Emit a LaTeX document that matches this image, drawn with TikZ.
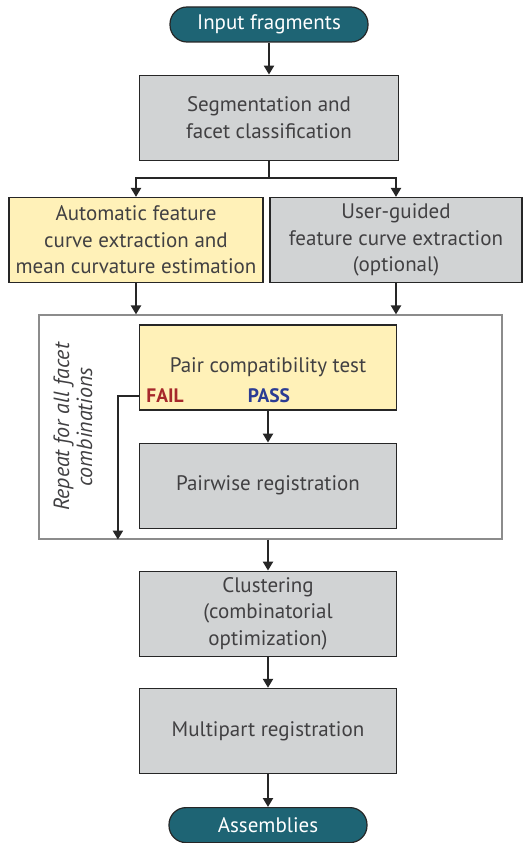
\documentclass[tikz,border=0pt]{standalone}
\usepackage{fontspec}
\setmainfont{PT Sans}
\usetikzlibrary{arrows.meta,calc,positioning}

\begin{document}
\begin{tikzpicture}[
  x=1pt, y=1pt,
  font=\fontsize{21}{26.5}\selectfont,
  >={Triangle[length=9pt,width=10pt]},
  terminal/.style={draw=black!85, line width=1.2pt, rounded corners=17pt,
    fill=pipeteal, text=white, minimum width=198pt, minimum height=35pt,
    inner sep=0pt},
  stagebox/.style={draw=black!85, line width=1.2pt, fill=pipegray,
    text=pipetext, minimum width=257pt, minimum height=85pt, align=center,
    inner sep=2pt},
  autobox/.style={stagebox, fill=pipeyellow},
  loopbox/.style={draw=black!45, line width=1.2pt, minimum width=463pt,
    minimum height=224pt, inner sep=0pt},
  flow/.style={->, line width=2.2pt, draw=black!85},
  verdict/.style={font=\fontsize{19.5}{22}\selectfont\bfseries}
]
\definecolor{pipeteal}{HTML}{1E6474}
\definecolor{pipegray}{HTML}{D1D3D4}
\definecolor{pipeyellow}{HTML}{FFF1B8}
\definecolor{pipetext}{HTML}{414042}
\definecolor{failred}{HTML}{A6282B}
\definecolor{passblue}{HTML}{2B3C94}

\useasboundingbox (0,0) rectangle (525,-843);

% Input and preprocessing
\node[terminal] (input) at (269,-24.5) {Input fragments};
\node[stagebox, minimum width=259pt, below=32pt of input] (seg)
  {Segmentation and\\facet classification};

% Feature curves
\node[autobox, minimum width=254pt] (auto) at (136,-240)
  {Automatic feature\\curve extraction and\\mean curvature estimation};
\node[stagebox, minimum width=252pt] (manual) at (396,-240)
  {User-guided\\feature curve extraction\\(optional)};

% Loop over facet pairs
\node[loopbox] (loop) at (270.5,-427) {};
\node[autobox] (pair) at (268,-367.5) {Pair compatibility test};
\node[stagebox, below=32pt of pair] (pairwise) {Pairwise registration};
\node[verdict, text=failred] (fail) at (165,-396) {FAIL};
\node[verdict, text=passblue] (pass) at (269,-396) {PASS};
\node[rotate=90, font=\fontsize{22}{23}\selectfont\itshape, text=pipetext,
  align=center] (repeat) at (73,-427) {Repeat for all facet\\combinations};

% Global assembly
\node[stagebox, below=31pt of loop.south -| pair.south, anchor=north] (cluster)
  {Clustering\\(combinatorial\\optimization)};
\node[stagebox, below=31pt of cluster] (multi) {Multipart registration};
\node[terminal, below=33pt of multi] (out) {Assemblies};

\draw[flow] (input) -- (seg);
\draw[flow] (seg.south) -- ++(0,-17) coordinate (split) -| (auto.north);
\draw[flow] (split) -| (manual.north);
\draw[flow] (auto.south) -- (auto.south |- loop.north);
\draw[flow] (manual.south) -- (manual.south |- loop.north);
\draw[flow] (pair.west |- fail) -- ++(-21,0) coordinate (failturn)
  -- (failturn |- loop.south);
\draw[flow] (pair) -- (pairwise);
\draw[flow] (loop.south -| pair.south) -- (cluster);
\draw[flow] (cluster) -- (multi);
\draw[flow] (multi) -- (out);
\end{tikzpicture}
\end{document}
